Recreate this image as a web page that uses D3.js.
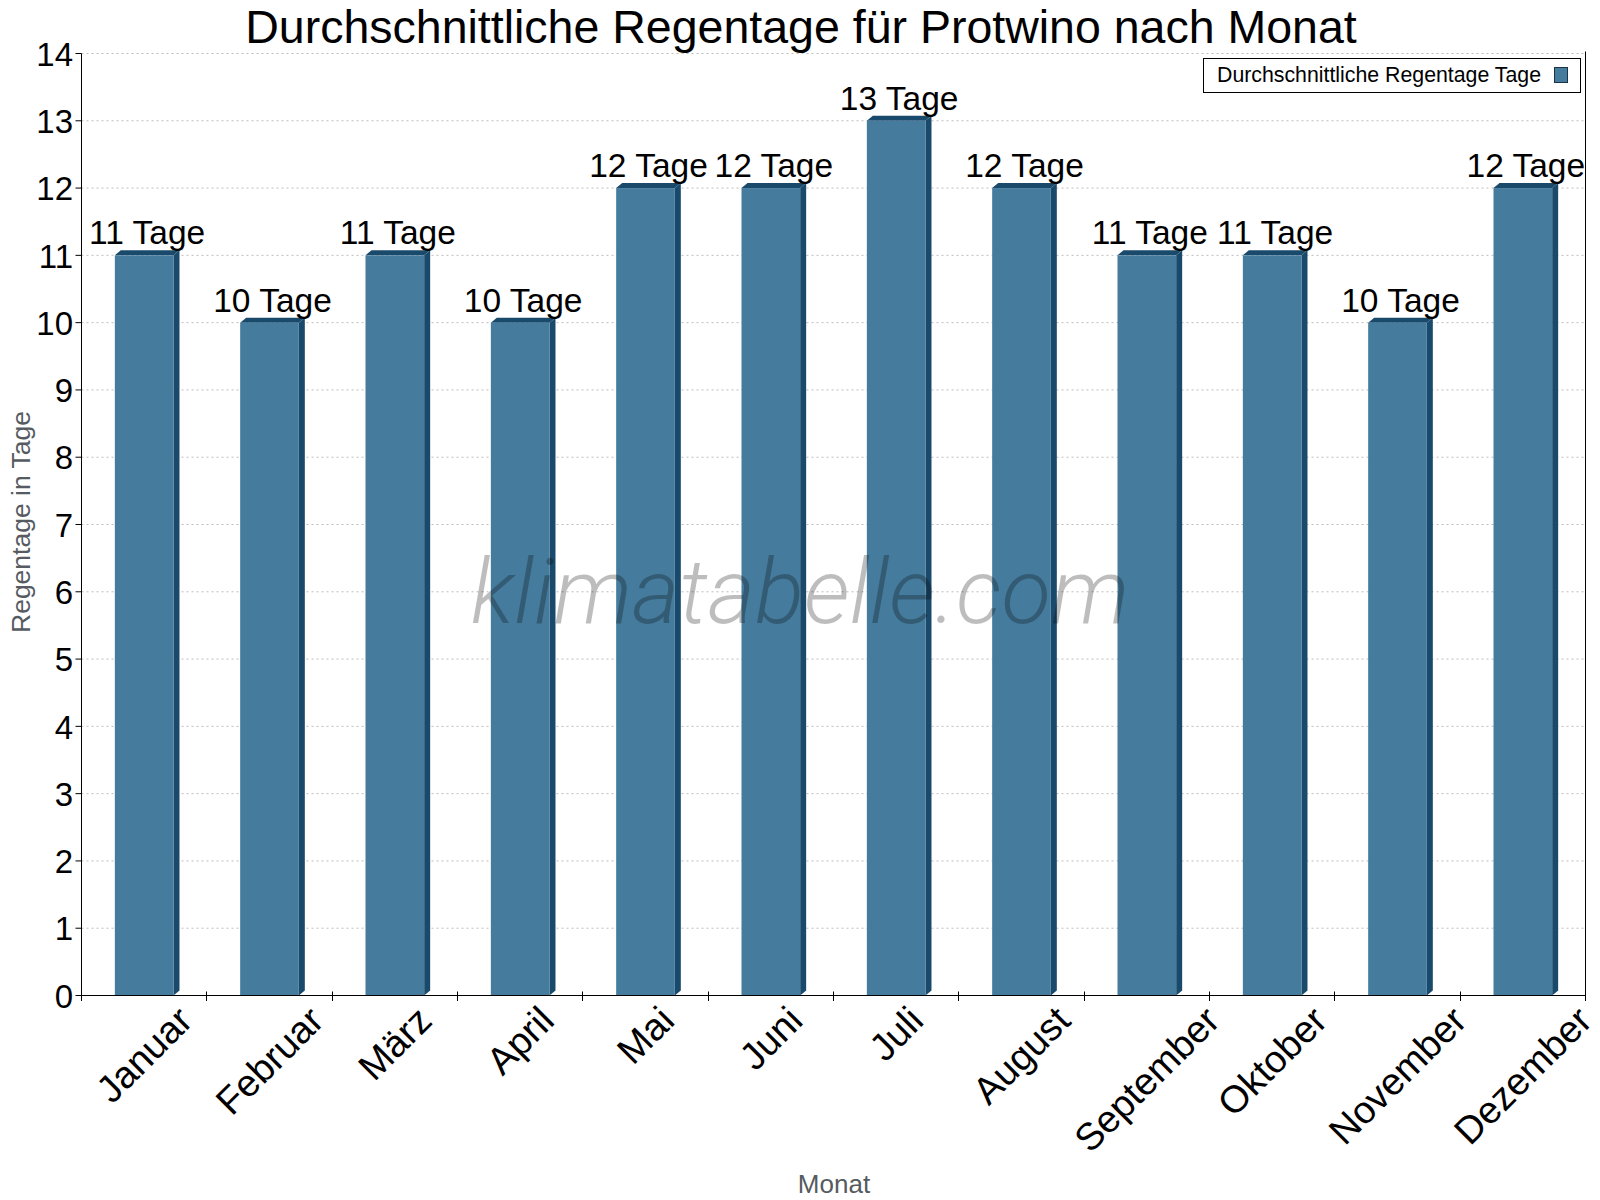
<!DOCTYPE html>
<html>
<head>
<meta charset="utf-8">
<script src="https://cdn.jsdelivr.net/npm/d3@7"></script>
<style>
  html, body { margin: 0; padding: 0; background: #fff; }
  svg { display: block; }
  text { font-family: "Liberation Sans", Arial, sans-serif; }
</style>
</head>
<body>
<svg id="chart" width="1600" height="1200"></svg>
<script>
const months = ["Januar", "Februar", "März", "April", "Mai", "Juni", "Juli", "August", "September", "Oktober", "November", "Dezember"];
const rainDays = [11, 10, 11, 10, 12, 12, 13, 12, 11, 11, 10, 12];
const yTicks = [0, 1, 2, 3, 4, 5, 6, 7, 8, 9, 10, 11, 12, 13, 14];
const unit = "Tage";
const titleText = "Durchschnittliche Regentage für Protwino nach Monat";
const legendText = "Durchschnittliche Regentage Tage";
const yTitle = "Regentage in Tage";
const xTitle = "Monat";
const watermark = "klimatabelle.com";

(function () {
const frontColor = "#457b9d";
const darkColor = "#1a4a6b";

const svg = d3.select("#chart");
const pLeft = 81.5, pRight = 1585.5, pTop = 53.5, pBottom = 995.5;

const x = d3.scaleBand().domain(months).range([pLeft, pRight]).padding(0);
const y = d3.scaleLinear().domain([0, 14]).range([pBottom, pTop]);

// Title
svg.append("text")
  .attr("x", 801).attr("y", 42.5)
  .attr("text-anchor", "middle")
  .attr("font-size", 46.5)
  .attr("fill", "#000")
  .text(titleText);

// Grid lines
svg.append("g").selectAll("line")
  .data(yTicks.filter(d => d > 0))
  .join("line")
  .attr("x1", pLeft).attr("x2", pRight)
  .attr("y1", d => y(d)).attr("y2", d => y(d))
  .attr("stroke", "#bdbdbd")
  .attr("stroke-width", 1)
  .attr("stroke-dasharray", "2,3");

// Bars (pseudo-3D)
const bw = x.bandwidth() * 0.468;
const dx = 6, dy = 5;
const bars = svg.append("g");
months.forEach((m, i) => {
  const v = rainDays[i];
  const cx = x(m) + x.bandwidth() / 2;
  const x0 = cx - bw / 2, x1 = cx + bw / 2;
  const yt = y(v), yb = y(0);
  bars.append("path")
    .attr("d", `M${x1},${yt} L${x1 + dx},${yt - dy} L${x1 + dx},${yb - dy} L${x1},${yb} Z`)
    .attr("fill", darkColor);
  bars.append("path")
    .attr("d", `M${x0},${yt} L${x0 + dx},${yt - dy} L${x1 + dx},${yt - dy} L${x1},${yt} Z`)
    .attr("fill", darkColor);
  bars.append("rect")
    .attr("x", x0).attr("y", yt)
    .attr("width", bw).attr("height", yb - yt)
    .attr("fill", frontColor);
});

// Watermark
svg.append("text")
  .attr("x", 800).attr("y", 623)
  .attr("text-anchor", "middle")
  .attr("font-size", 91)
  .attr("font-style", "italic")
  .attr("font-weight", 300)
  .style("font-family", "Roboto, 'Open Sans', sans-serif")
  .attr("fill", "#000")
  .attr("fill-opacity", 0.26)
  .text(watermark);

// Data labels
svg.append("g").selectAll("text")
  .data(months.map((m, i) => ({ m, v: rainDays[i] })))
  .join("text")
  .attr("x", d => x(d.m) + x.bandwidth() / 2 + dx / 2)
  .attr("y", d => y(d.v) - 11)
  .attr("text-anchor", "middle")
  .attr("font-size", 33.5)
  .attr("fill", "#000")
  .text(d => `${d.v} ${unit}`);

// Axes
const axes = svg.append("g").attr("stroke", "#000").attr("stroke-width", 1);
axes.append("line").attr("x1", pLeft).attr("x2", pLeft).attr("y1", pTop).attr("y2", pBottom + 5.5);
axes.append("line").attr("x1", pRight).attr("x2", pRight).attr("y1", pTop - 2).attr("y2", pBottom + 5.5);
axes.append("line").attr("x1", pLeft).attr("x2", pRight).attr("y1", pBottom).attr("y2", pBottom);
axes.selectAll("line.yt").data(yTicks).join("line").attr("class", "yt")
  .attr("x1", pLeft - 6).attr("x2", pLeft)
  .attr("y1", d => y(d)).attr("y2", d => y(d));
const bounds = months.map(m => x(m)).concat([pRight]);
axes.selectAll("line.xt").data(bounds).join("line").attr("class", "xt")
  .attr("x1", d => Math.round(d - 0.5) + 0.5).attr("x2", d => Math.round(d - 0.5) + 0.5)
  .attr("y1", pBottom - 4).attr("y2", pBottom + 5.5);

// y tick labels
svg.append("g").selectAll("text")
  .data(yTicks).join("text")
  .attr("x", 73).attr("y", d => y(d))
  .attr("dy", "0.37em")
  .attr("text-anchor", "end")
  .attr("font-size", 33)
  .attr("fill", "#000")
  .text(d => d);

// x tick labels
const fsX = 38;
const xl = svg.append("g");
months.forEach(m => {
  const t = xl.append("text")
    .attr("text-anchor", "middle")
    .attr("dominant-baseline", "central")
    .attr("font-size", fsX)
    .attr("fill", "#000")
    .text(m);
  const w = t.node().getComputedTextLength();
  const h = fsX * 0.72;
  const half = (w + h) * Math.SQRT1_2 / 2;
  const cx = x(m) + x.bandwidth() / 2;
  t.attr("transform", `translate(${cx},${1004 + half}) rotate(-45)`);
});

// Axis titles
svg.append("text")
  .attr("transform", `translate(30,522) rotate(-90)`)
  .attr("text-anchor", "middle")
  .attr("font-size", 26.5)
  .attr("fill", "#555b61")
  .text(yTitle);
svg.append("text")
  .attr("x", 834).attr("y", 1193)
  .attr("text-anchor", "middle")
  .attr("font-size", 26)
  .attr("fill", "#555b61")
  .text(xTitle);

// Legend
const lg = svg.append("g");
lg.append("rect").attr("x", 1203.5).attr("y", 58.5).attr("width", 377).attr("height", 34)
  .attr("fill", "#fff").attr("stroke", "#000").attr("stroke-width", 1);
lg.append("text").attr("x", 1217).attr("y", 82)
  .attr("font-size", 21.3).attr("fill", "#000").text(legendText);
lg.append("rect").attr("x", 1554.5).attr("y", 67.5).attr("width", 13).attr("height", 15)
  .attr("fill", frontColor).attr("stroke", "#1a3346").attr("stroke-width", 1);
})();
</script>
</body>
</html>
